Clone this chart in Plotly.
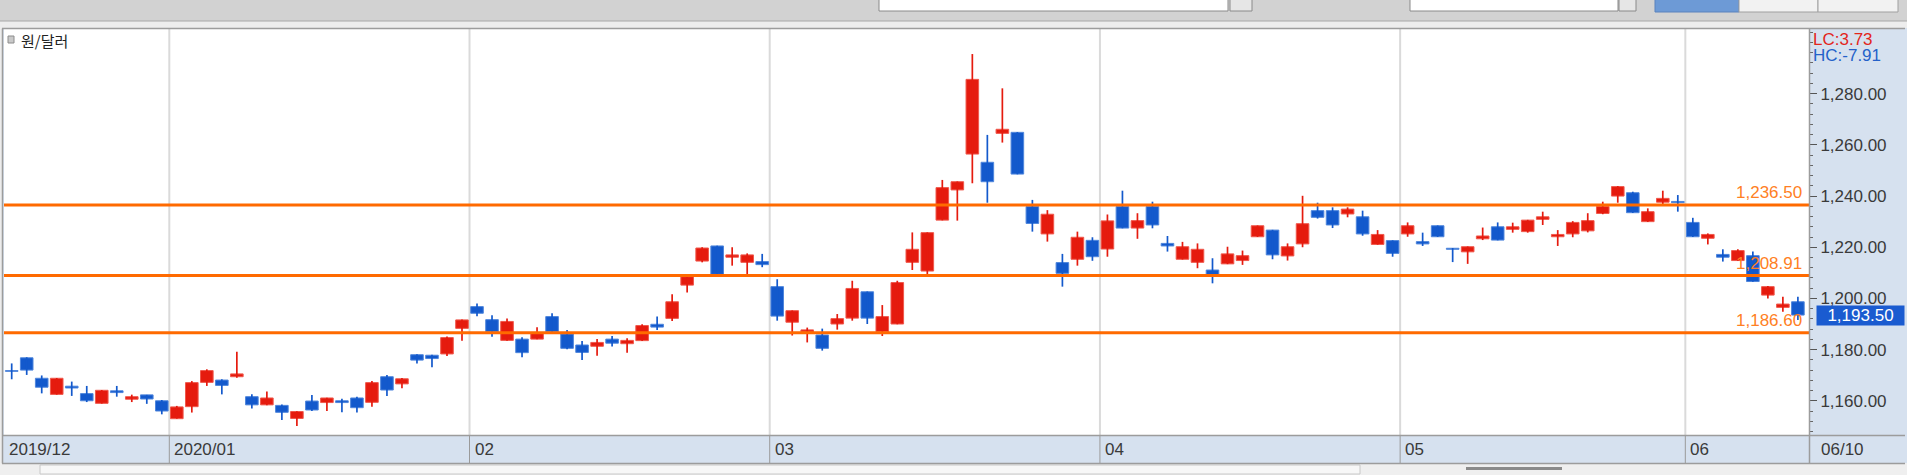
import plotly.graph_objects as go

# ---------------- data ----------------
title_text = "원/달러"
month_labels = ["2019/12", "2020/01", "02", "03", "04", "05", "06"]
month_sessions = [11, 20, 20, 22, 20, 19, 8]
last_date_label = "06/10"
lc_text = "LC:3.73"
hc_text = "HC:-7.91"

open_ = [1171.7, 1176.8, 1168.8, 1162.5, 1165.7, 1162.8, 1159.0, 1163.9, 1160.6, 1162.3, 1160.0,
         1153.0, 1157.7, 1167.2, 1168.1, 1169.4, 1161.6, 1158.4, 1158.2, 1153.1, 1159.9,
         1159.3, 1160.0, 1161.1, 1159.4, 1169.4, 1166.6, 1178.0, 1177.8, 1178.3, 1188.3,
         1196.8, 1191.7, 1183.6, 1184.1, 1184.1, 1192.9, 1186.1, 1181.8, 1181.3, 1184.1,
         1182.3, 1183.5, 1189.9, 1192.2, 1205.2, 1214.6, 1220.5, 1216.1, 1214.1, 1214.4,
         1204.6, 1190.7, 1186.9, 1185.7, 1190.0, 1192.3, 1202.6, 1187.0, 1190.0, 1214.1,
         1210.7, 1230.6, 1242.4, 1256.4, 1253.2, 1264.5, 1264.9, 1235.9, 1225.2, 1214.0,
         1215.3, 1222.7,
         1219.3, 1235.9, 1227.5, 1235.9, 1221.5, 1215.3, 1214.1, 1211.1, 1213.5, 1214.8,
         1224.1, 1226.7, 1216.6, 1221.3, 1234.3, 1234.3, 1233.0, 1231.9, 1221.1, 1222.6,
         1225.2, 1222.2, 1228.4, 1219.6, 1218.2, 1223.3, 1228.0, 1227.0, 1226.1, 1230.9,
         1224.1, 1225.2, 1226.4, 1233.2, 1240.0, 1241.3, 1230.0, 1237.6, 1237.9,
         1229.7, 1223.5, 1217.2, 1214.8, 1216.7, 1201.3, 1196.5, 1198.7]
high = [1174.6, 1177.0, 1169.9, 1168.9, 1167.5, 1165.8, 1164.2, 1165.8, 1162.4, 1162.3, 1160.3,
        1158.0, 1167.7, 1172.3, 1168.4, 1179.2, 1162.6, 1163.6, 1158.5, 1155.9, 1162.3,
        1161.2, 1160.8, 1161.6, 1167.7, 1170.1, 1168.9, 1178.2, 1178.0, 1185.1, 1191.8,
        1198.0, 1193.4, 1192.2, 1184.8, 1188.7, 1194.2, 1187.7, 1183.4, 1184.1, 1185.3,
        1184.4, 1189.9, 1192.9, 1201.6, 1208.8, 1220.0, 1220.6, 1220.0, 1217.6, 1217.4,
        1207.5, 1195.3, 1188.6, 1188.2, 1193.9, 1206.9, 1202.7, 1197.4, 1206.9, 1225.8,
        1225.8, 1246.3, 1245.7, 1295.5, 1263.9, 1282.1, 1265.0, 1238.5, 1234.5, 1217.4,
        1226.1, 1223.9,
        1232.8, 1242.1, 1233.3, 1237.8, 1224.4, 1222.1, 1221.5, 1215.7, 1220.2, 1218.7,
        1228.5, 1226.8, 1221.5, 1240.1, 1237.4, 1235.6, 1235.6, 1234.3, 1226.7, 1222.7,
        1229.7, 1225.7, 1228.5, 1219.7, 1220.3, 1227.7, 1229.7, 1229.6, 1230.7, 1233.9,
        1226.7, 1230.2, 1233.3, 1237.8, 1243.9, 1241.7, 1235.2, 1242.1, 1240.4,
        1231.5, 1225.4, 1219.2, 1219.2, 1218.3, 1204.9, 1200.7, 1200.7]
low = [1168.4, 1170.1, 1162.9, 1162.4, 1161.9, 1159.5, 1158.9, 1161.6, 1159.5, 1158.8, 1154.7,
       1153.0, 1155.4, 1165.8, 1162.5, 1169.0, 1157.0, 1158.3, 1152.5, 1150.1, 1156.0,
       1156.0, 1155.5, 1155.4, 1157.7, 1161.9, 1164.9, 1174.6, 1173.1, 1177.5, 1183.5,
       1193.0, 1185.0, 1183.5, 1177.0, 1184.0, 1186.9, 1180.1, 1175.9, 1177.6, 1181.2,
       1178.8, 1183.4, 1187.7, 1191.2, 1202.3, 1214.1, 1209.3, 1212.8, 1209.5, 1212.2,
       1191.3, 1185.5, 1182.8, 1179.6, 1187.8, 1191.3, 1190.0, 1185.3, 1189.9, 1211.1,
       1209.1, 1230.5, 1230.4, 1245.0, 1237.4, 1260.9, 1248.5, 1226.1, 1222.2, 1204.6,
       1212.8, 1214.7,
       1216.3, 1227.4, 1223.3, 1227.4, 1218.3, 1215.2, 1211.8, 1205.9, 1213.4, 1213.1,
       1224.0, 1215.3, 1214.8, 1220.0, 1231.2, 1227.5, 1231.7, 1224.5, 1221.0, 1216.3,
       1224.1, 1220.5, 1224.0, 1214.2, 1213.5, 1222.8, 1222.7, 1225.7, 1225.7, 1228.7,
       1220.5, 1223.9, 1225.8, 1232.9, 1237.4, 1233.4, 1229.9, 1236.5, 1233.9,
       1224.0, 1221.1, 1214.4, 1214.7, 1206.5, 1200.0, 1194.8, 1191.6]
close = [1171.5, 1172.0, 1165.3, 1168.8, 1165.0, 1160.0, 1164.1, 1163.2, 1161.6, 1160.7, 1156.0,
         1157.6, 1167.1, 1171.8, 1166.0, 1170.5, 1158.4, 1161.1, 1155.5, 1155.8, 1156.4,
         1161.1, 1159.3, 1157.3, 1167.1, 1164.2, 1168.6, 1175.9, 1176.5, 1184.7, 1191.6,
         1194.2, 1187.0, 1191.0, 1178.8, 1186.4, 1187.0, 1180.5, 1178.9, 1182.8, 1182.5,
         1183.6, 1189.4, 1188.8, 1198.7, 1208.5, 1219.7, 1209.4, 1217.0, 1217.0, 1213.2,
         1193.1, 1195.2, 1187.7, 1180.5, 1192.1, 1203.9, 1192.3, 1192.9, 1206.2, 1219.2,
         1225.7, 1243.3, 1245.6, 1285.6, 1245.6, 1266.1, 1248.6, 1229.3, 1232.9, 1209.8,
         1223.9, 1216.3,
         1230.3, 1227.5, 1230.4, 1228.7, 1220.5, 1220.2, 1219.2, 1209.2, 1217.4, 1216.7,
         1228.4, 1217.0, 1220.2, 1229.2, 1231.7, 1228.7, 1234.9, 1225.2, 1225.0, 1217.6,
         1228.4, 1221.3, 1224.1, 1219.2, 1220.2, 1224.4, 1222.8, 1228.0, 1230.6, 1231.9,
         1225.0, 1229.7, 1230.4, 1235.9, 1243.7, 1233.5, 1233.9, 1239.1, 1237.4,
         1224.1, 1225.0, 1216.1, 1218.7, 1206.6, 1204.6, 1197.8, 1193.5]

ref_levels = [1236.50, 1208.91, 1186.60]
y_ticks = [1160, 1180, 1200, 1220, 1240, 1260, 1280]

# ---------------- styling / geometry ----------------
W, H = 1907, 475
ML, MR, MT, MB = 4, 98, 29, 40
PW, PH = W - ML - MR, H - MT - MB
RED, BLUE = "#e51b0e", "#1359cc"
RED_EDGE, BLUE_EDGE = "#f0584c", "#4f86dc"
ORANGE, ORANGE_TXT = "#ff6a00", "#ff7f24"
PANEL = "#d6e1ef"
NUM_FONT = "Liberation Sans, Arial, sans-serif"
KR_FONT = "Noto Sans CJK KR, sans-serif"


def px(xp):
    return (xp - ML) / PW


def py(yp):
    return (MT + PH - yp) / PH


n = len(close)
xs = list(range(n))
up = [c >= o for o, c in zip(open_, close)]
body_base = [min(o, c) for o, c in zip(open_, close)]
body_len = [max(abs(c - o), 0.3) for o, c in zip(open_, close)]
fill_cols = [RED if u else BLUE for u in up]
edge_cols = [RED_EDGE if u else BLUE_EDGE for u in up]

fig = go.Figure()

for flag, col in [(True, RED), (False, BLUE)]:
    wx, wy = [], []
    for i in xs:
        if up[i] == flag:
            wx += [i, i, None]
            wy += [low[i], high[i], None]
    fig.add_trace(go.Scatter(x=wx, y=wy, mode="lines", line=dict(color=col, width=1.7),
                             hoverinfo="skip", showlegend=False))

fig.add_trace(go.Bar(x=xs, y=body_len, base=body_base, width=0.84,
                     marker=dict(color=fill_cols, line=dict(color=edge_cols, width=1)),
                     hoverinfo="skip", showlegend=False))

shapes = []
annotations = []

# month boundaries
starts = []
acc = 0
for cnt in month_sessions:
    starts.append(acc)
    acc += cnt
boundaries = [s - 0.5 for s in starts[1:]]

for b in boundaries:
    shapes.append(dict(type="line", xref="x", yref="paper", x0=b, x1=b, y0=0, y1=1,
                       line=dict(color="#dadada", width=2), layer="below"))
    shapes.append(dict(type="line", xref="x", yref="paper", x0=b, x1=b, y0=py(463), y1=py(435),
                       line=dict(color="#9a9a9a", width=1)))

# reference lines
for v in ref_levels:
    shapes.append(dict(type="line", xref="paper", yref="y", x0=0, x1=1, y0=v, y1=v,
                       line=dict(color=ORANGE, width=3), layer="above"))
    annotations.append(dict(xref="paper", yref="y", x=px(1804), y=v, xanchor="right",
                            yanchor="bottom", yshift=1, showarrow=False, text=f"{v:,.2f}",
                            font=dict(family=NUM_FONT, size=17, color=ORANGE_TXT)))

# window chrome
def rect(x0, y0, x1, y1, fill, line=None, lw=0, layer="above"):
    shapes.append(dict(type="rect", xref="paper", yref="paper", x0=px(x0), x1=px(x1),
                       y0=py(y1), y1=py(y0), fillcolor=fill,
                       line=dict(color=line or fill, width=lw), layer=layer))

def hline(x0, x1, y, col, w=1):
    shapes.append(dict(type="line", xref="paper", yref="paper", x0=px(x0), x1=px(x1),
                       y0=py(y), y1=py(y), line=dict(color=col, width=w)))

def vline(x, y0, y1, col, w=1):
    shapes.append(dict(type="line", xref="paper", yref="paper", x0=px(x), x1=px(x),
                       y0=py(y0), y1=py(y1), line=dict(color=col, width=w)))

rect(0, 0, W, 21, "#d2d2d2")
rect(0, 21, W, 28, "#ededed")
hline(0, W, 21, "#a8a8a8", 1)
rect(0, 28, 3, 475, "#ededed")
rect(0, 463, W, 475, "#efefef")
# top toolbar widgets (cut off)
rect(879, -2, 1228, 11, "#ffffff", "#8a8a8a", 1)
rect(1230, -2, 1252, 11, "#e6e6e6", "#8a8a8a", 1)
rect(1410, -2, 1618, 11, "#ffffff", "#8a8a8a", 1)
rect(1619, -2, 1636, 11, "#e6e6e6", "#8a8a8a", 1)
rect(1655, -2, 1739, 12, "#6d9ad6", "#5a82bd", 1)
rect(1739, -2, 1818, 12, "#f2f2f2", "#a0a0a0", 1)
rect(1818, -2, 1898, 12, "#f2f2f2", "#a0a0a0", 1)
# bottom scroll row
rect(40, 465, 1360, 474, "#f7f7f7", "#c8c8c8", 1)
rect(1466, 467, 1562, 470, "#8a8a8a")
# borders
hline(2, 1905, 28.5, "#9c9c9c", 1.5)
hline(2, 1905, 435.5, "#9c9c9c", 1.5)
hline(2, 1905, 463.5, "#9c9c9c", 1.5)
vline(2.5, 28.5, 463.5, "#9c9c9c", 1.5)
vline(1809.5, 28.5, 463.5, "#9c9c9c", 1.5)

# title
rect(8, 36, 14, 43, "#c9c9c9", "#8c8c8c", 1)
annotations.append(dict(xref="paper", yref="paper", x=px(19), y=py(40), xanchor="left",
                        yanchor="middle", showarrow=False, text=title_text,
                        font=dict(family=KR_FONT, size=15, color="#222222")))

# LC / HC
annotations.append(dict(xref="paper", yref="paper", x=px(1811), y=py(39.5), xanchor="left",
                        yanchor="middle", showarrow=False, text=lc_text,
                        font=dict(family=NUM_FONT, size=17, color="#e3261c")))
annotations.append(dict(xref="paper", yref="paper", x=px(1811), y=py(55.5), xanchor="left",
                        yanchor="middle", showarrow=False, text=hc_text,
                        font=dict(family=NUM_FONT, size=17, color="#2461c9")))

# last price box
annotations.append(dict(xref="paper", yref="y", x=px(1816), y=close[-1], xanchor="left",
                        yanchor="middle", showarrow=False, text=f"{close[-1]:,.2f}",
                        bgcolor="#1a5bd0", width=87, height=19, borderpad=0, align="center",
                        font=dict(family=NUM_FONT, size=17, color="#ffffff")))

# date labels
label_pos = [-0.5] + boundaries
for lab, pos in zip(month_labels, label_pos):
    annotations.append(dict(xref="x", yref="paper", x=max(pos, -0.5), y=py(449.5),
                            xanchor="left", yanchor="middle", xshift=3, showarrow=False,
                            text=lab, font=dict(family=NUM_FONT, size=17, color="#3a3a3a")))
annotations.append(dict(xref="paper", yref="paper", x=px(1819), y=py(449.5), xanchor="left",
                        yanchor="middle", showarrow=False, text=last_date_label,
                        font=dict(family=NUM_FONT, size=17, color="#3a3a3a")))

y_lo = 1280 - (MT + PH - 93.7) / 2.559
y_hi = 1280 + (93.7 - MT) / 2.559
x_lo = (ML - 11.7) / 15.01
x_hi = x_lo + PW / 15.01

fig.update_layout(
    width=W, height=H, autosize=False,
    margin=dict(l=ML, r=MR, t=MT, b=MB, pad=0),
    paper_bgcolor=PANEL, plot_bgcolor="#ffffff",
    shapes=shapes, annotations=annotations,
    hovermode=False, showlegend=False, bargap=0,
    xaxis=dict(range=[x_lo, x_hi], showticklabels=False, showgrid=False, zeroline=False,
               ticks="", showline=False, fixedrange=True),
    yaxis=dict(range=[y_lo, y_hi], side="right", tickvals=y_ticks, tickformat=",.2f",
               ticks="outside", ticklen=7, tickwidth=1, tickcolor="#555555",
               minor=dict(dtick=4, tick0=0, ticks="outside", ticklen=3, tickcolor="#666666"),
               showgrid=False, zeroline=False, showline=False, fixedrange=True,
               tickfont=dict(family=NUM_FONT, size=17, color="#3a3a3a")),
)

fig.write_html("out.html", config={"displayModeBar": False, "staticPlot": True},
               post_script="document.body.style.margin='0';document.body.style.overflow='hidden';")
